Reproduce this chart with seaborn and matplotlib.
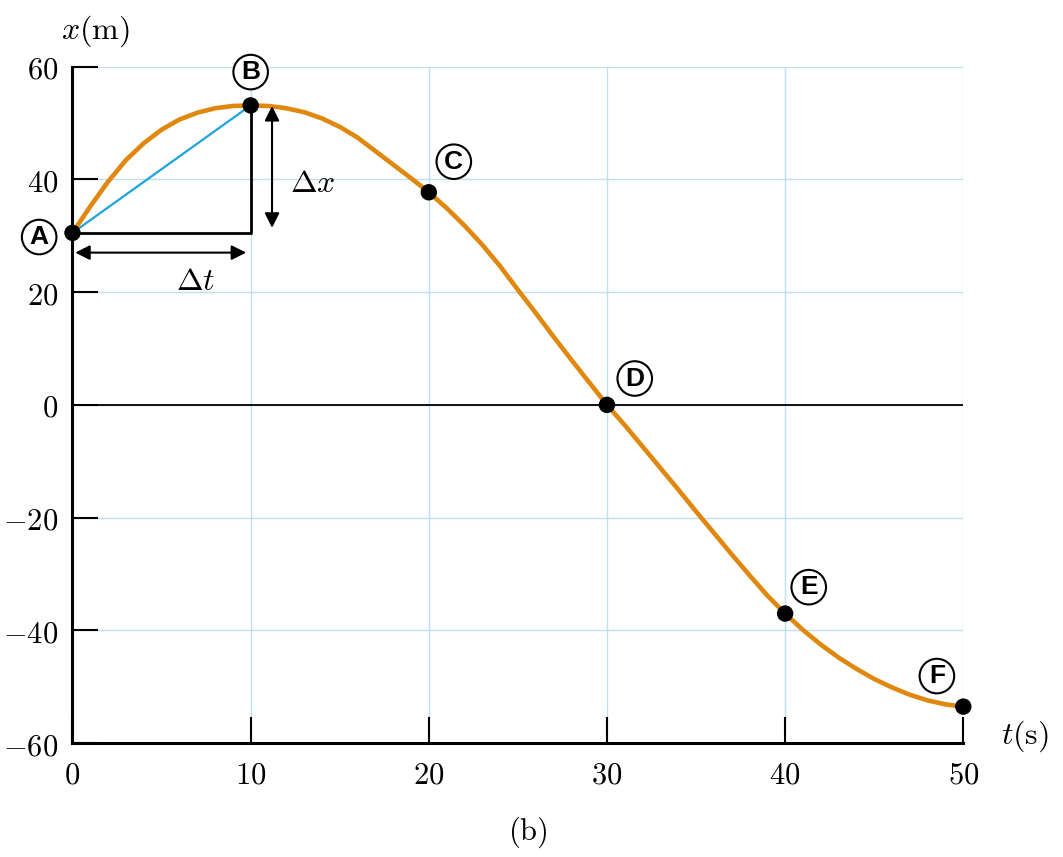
import numpy as np
import pandas as pd
import matplotlib.pyplot as plt
import seaborn as sns

# === Données ===
t_curve = [0, 1, 2, 3, 4, 5, 6, 7, 8, 9,
           10, 11, 12, 13, 14, 15, 16, 17, 18, 19,
           20, 21, 22, 23, 24, 25, 26, 27, 28, 29,
           30, 31, 32, 33, 34, 35, 36, 37, 38, 39,
           40, 41, 42, 43, 44, 45, 46, 47, 48, 49, 50]
x_curve = [30.5, 35.2, 39.6, 43.4, 46.4, 48.8, 50.6, 51.8, 52.6, 53.0,
           53.1, 53.0, 52.6, 51.9, 50.8, 49.3, 47.4, 45.0, 42.6, 40.2,
           37.7, 34.9, 31.8, 28.4, 24.6, 20.4, 16.3, 12.1, 8.0, 4.0,
           0.0, -3.6, -7.4, -11.2, -15.0, -18.9, -22.7, -26.5, -30.2, -33.8,
           -37.0, -39.9, -42.5, -44.8, -46.8, -48.6, -50.1, -51.4, -52.4, -53.1, -53.5]

point_labels = ["A", "B", "C", "D", "E", "F"]
t_points = [0, 10, 20, 30, 40, 50]
x_points = [30.5, 53.1, 37.7, 0.0, -37.0, -53.5]
label_offsets = [(-24, -3), (0, 24), (18, 22), (20, 19), (17, 19), (-19, 22)]

t_ticks = [0, 10, 20, 30, 40, 50]
x_ticks = [-60, -40, -20, 0, 20, 40, 60]

orange = "#e0870e"
blue = "#1ea5df"
grid_blue = "#bfe0f3"

# === Style ===
sns.set_style("ticks")
plt.rcParams["mathtext.fontset"] = "cm"
plt.rcParams["font.family"] = ["DejaVu Serif"]
for key in ["text.color", "xtick.color", "ytick.color", "axes.labelcolor", "axes.edgecolor"]:
    plt.rcParams[key] = "black"

fig = plt.figure(figsize=(10.63, 8.57), dpi=100)
ax = fig.add_axes([0.0682, 0.1327, 0.838, 0.7897])
ax.set_xlim(0, 50)
ax.set_ylim(-60, 60)

ax.set_xticks(t_ticks, labels=[f"${v}$" for v in t_ticks])
ax.set_yticks(x_ticks, labels=[f"${v}$" for v in x_ticks])
ax.tick_params(direction="in", length=19, width=1.5, labelsize=22, color="black",
               labelcolor="black")
ax.tick_params(axis="x", pad=12)
ax.tick_params(axis="y", pad=10)
ax.grid(True, color=grid_blue, lw=1)
ax.set_axisbelow(True)

sns.despine(ax=ax)
for side in ["left", "bottom"]:
    ax.spines[side].set_linewidth(2.2)
    ax.spines[side].set_color("black")

ax.axhline(0, color="black", lw=1.3, zorder=1)

# === Courbe x(t) ===
df = pd.DataFrame({"t": t_curve, "x": x_curve})
sns.lineplot(data=df, x="t", y="x", color=orange, lw=3.3, estimator=None,
             sort=False, ax=ax, zorder=3, solid_joinstyle="round")

# === Triangle A-B ===
ax.plot([t_points[0], t_points[1], t_points[1]],
        [x_points[0], x_points[0], x_points[1]], color="black", lw=2, zorder=2)
ax.plot([t_points[0], t_points[1]], [x_points[0], x_points[1]],
        color=blue, lw=1.6, zorder=2)

arrow = dict(arrowstyle="<|-|>", color="black", lw=1.5, mutation_scale=22,
             shrinkA=0, shrinkB=0)
ax.annotate("", xy=(11.2, 31.4), xytext=(11.2, 53.0), arrowprops=arrow)
ax.annotate("", xy=(0.15, 27.0), xytext=(9.75, 27.0), arrowprops=arrow)
ax.text(13.5, 39.2, r"$\Delta x$", fontsize=23, ha="center", va="center")
ax.text(6.9, 21.8, r"$\Delta t$", fontsize=23, ha="center", va="center")

# === Points ===
sns.scatterplot(x=t_points, y=x_points, color="black", s=140, edgecolor="none",
                zorder=5, clip_on=False, ax=ax)
for lbl, t, x, off in zip(point_labels, t_points, x_points, label_offsets):
    ax.annotate(lbl, (t, x), xytext=off, textcoords="offset points",
                ha="center", va="center", fontsize=19, fontweight="bold",
                color="black", family="Liberation Sans", annotation_clip=False,
                bbox=dict(boxstyle="circle,pad=0.2", fc="white", ec="black", lw=1.5))

ax.set_xlabel("")
ax.set_ylabel("")
fig.text(95 / 1063, 1 - 31 / 857, r"$x\mathrm{(m)}$", fontsize=23, ha="center", va="center")
fig.text(1025 / 1063, 1 - 736 / 857, r"$t\mathrm{(s)}$", fontsize=23, ha="center", va="center")
fig.text(528 / 1063, 1 - 832 / 857, r"$\mathrm{(b)}$", fontsize=22, ha="center", va="center")

fig.savefig("out.png", dpi=100)
